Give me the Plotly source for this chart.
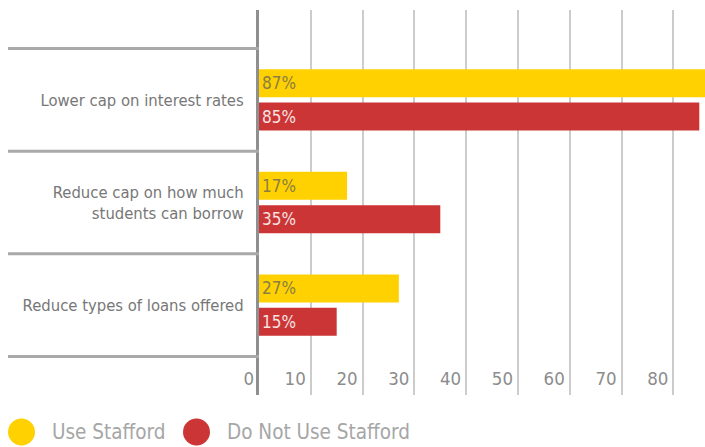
import plotly.graph_objects as go

categories = ["Lower cap on interest rates", "Reduce cap on how much<br>students can borrow", "Reduce types of loans offered"]
use_stafford = [87, 17, 27]
not_use_stafford = [85, 35, 15]
series_names = ["Use Stafford", "Do Not Use Stafford"]
colors = ["#FFD100", "#CC3535"]
text_colors = ["#8a7e45", "#f6e2e2"]
tick_vals = [0, 10, 20, 30, 40, 50, 60, 70, 80]

FONT = "Liberation Sans Narrow, DejaVu Sans Condensed, Arial Narrow, sans-serif"

L = 259
fig = go.Figure()
for name, vals, c, tc in zip(series_names, [use_stafford, not_use_stafford], colors, text_colors):
    fig.add_trace(go.Bar(
        y=categories, x=vals, orientation="h", name=name,
        marker=dict(color=c, line=dict(width=0)),
        text=[f"{v}%" for v in vals], textposition="inside",
        insidetextanchor="start",
        textfont=dict(family=FONT, size=17, color=tc),
        showlegend=False, hoverinfo="skip",
    ))

# manual legend helpers (pixel -> paper)
def px_x(p):
    return (p - L) / (705.0 - L)

def px_y(p):
    return (395 - p) / 385.0

# separator lines between categories
for i in range(len(categories) + 1):
    fig.add_shape(type="line", xref="paper", yref="y",
                  x0=px_x(8), x1=0, y0=i - 0.5, y1=i - 0.5,
                  line=dict(color="#a9a9a9", width=3), layer="above")

legend_items = [(21.5, 50), (196.5, 225)]
for (cx, tx), name, c in zip(legend_items, series_names, colors):
    fig.add_shape(type="circle", xref="paper", yref="paper",
                  x0=px_x(cx - 13.5), x1=px_x(cx + 13.5),
                  y0=px_y(432 + 13.5), y1=px_y(432 - 13.5),
                  fillcolor=c, line=dict(width=0))
    fig.add_annotation(xref="paper", yref="paper", x=px_x(tx), y=px_y(432),
                       text=name, showarrow=False, xanchor="left", yanchor="middle",
                       font=dict(family=FONT, size=20.5, color="#a6a6a6"))

fig.update_layout(
    width=705, height=447,
    margin=dict(l=L, r=0, t=10, b=52, autoexpand=False),
    paper_bgcolor="white", plot_bgcolor="white",
    barmode="group", bargap=0.35, bargroupgap=0.16,
    font=dict(family=FONT, color="#777777"),
    xaxis=dict(range=[0, 86.1], tickvals=tick_vals, showgrid=True,
               gridcolor="#cccccc", gridwidth=1.5, zeroline=False,
               ticklabelposition="inside left", ticklabeloverflow="allow",
               ticklabelshift=-5, automargin=False,
               tickfont=dict(family=FONT, size=18.5, color="#8c8c8c"),
               showline=False, fixedrange=True),
    yaxis=dict(type="category", categoryorder="array", categoryarray=categories,
               range=[2.876, -0.876], showgrid=False, zeroline=False,
               showline=True, linecolor="#8f8f8f", linewidth=3,
               ticks="", ticklabelstandoff=9, automargin=False,
               tickfont=dict(family=FONT, size=16.5, color="#777777"),
               fixedrange=True),
)

fig.write_html("out.html")
